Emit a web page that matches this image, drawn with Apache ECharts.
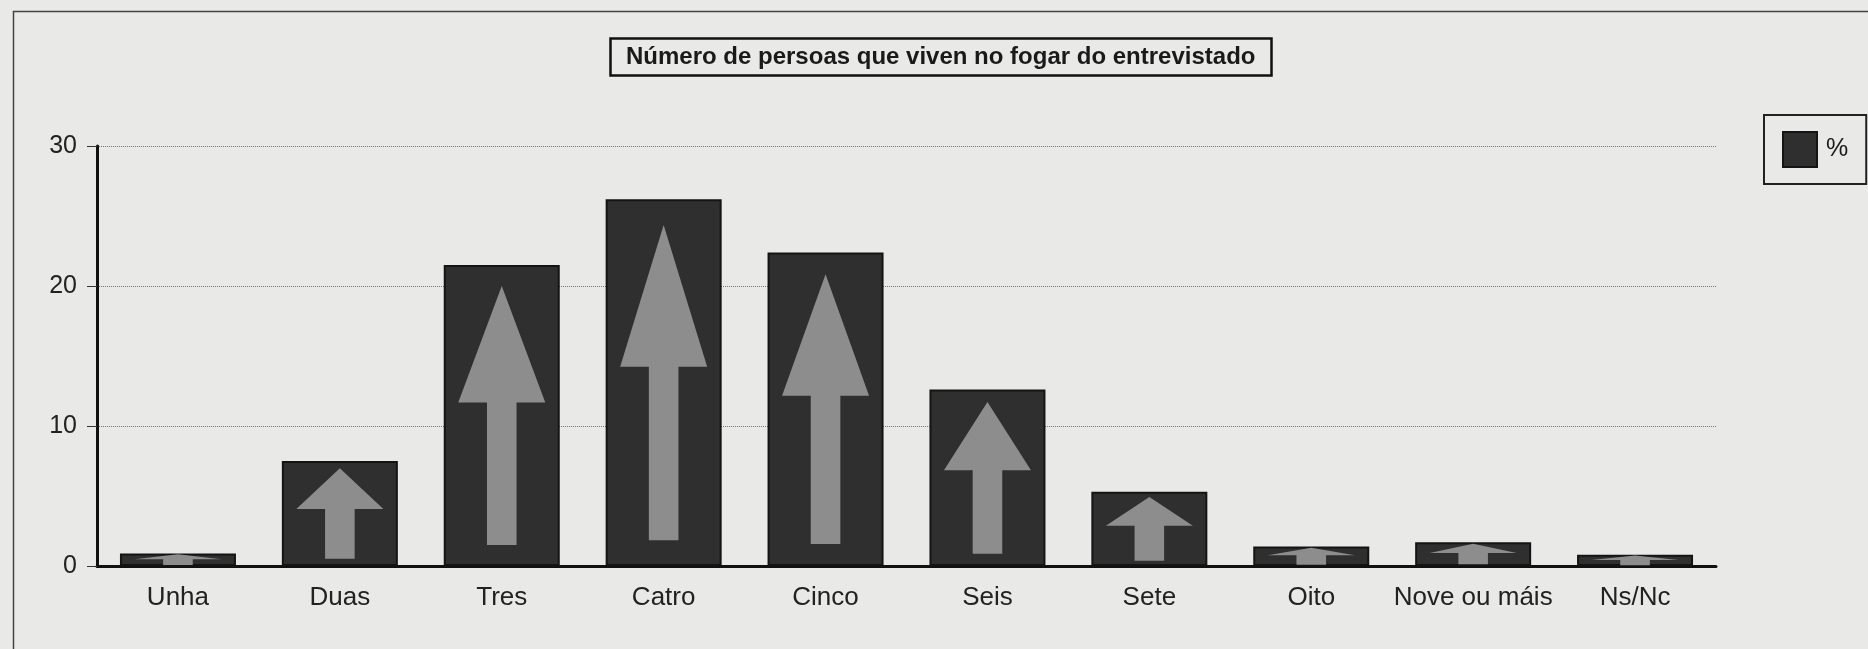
<!DOCTYPE html>
<html lang="gl">
<head>
    <meta charset="UTF-8">
    <title>Número de persoas que viven no fogar do entrevistado</title>
    <script src="https://cdn.jsdelivr.net/npm/echarts@6.0.0/dist/echarts.min.js"></script>
    <style>
        html, body {
            margin: 0;
            padding: 0;
            background: #e9e9e8;
        }

        #main {
            width: 1868px;
            height: 649px;
        }
    </style>
</head>
<body>
    <div id="main"></div>
    <script>
        // Data
        const categories = ['Unha', 'Duas', 'Tres', 'Catro', 'Cinco', 'Seis', 'Sete', 'Oito', 'Nove ou máis', 'Ns/Nc'];
        const percent = [0.9, 7.5, 21.5, 26.2, 22.4, 12.6, 5.3, 1.4, 1.7, 0.8];
        const yTicks = [0, 10, 20, 30];

        const font = "'Liberation Sans', Arial, Helvetica, sans-serif";
        const arrow = 'path://M50,0L100,45L67,45L67,100L33,100L33,45L0,45Z';

        const chart = echarts.init(document.getElementById('main'));

        const option = {
            backgroundColor: '#e9e9e8',
            animation: false,
            textStyle: { fontFamily: font },
            title: {
                text: 'Número de persoas que viven no fogar do entrevistado',
                left: 610,
                top: 38,
                padding: [7, 16, 7, 16],
                borderColor: '#111',
                borderWidth: 2.5,
                textStyle: {
                    fontFamily: font,
                    fontSize: 24,
                    fontWeight: 'bold',
                    color: '#1a1a1a'
                }
            },
            legend: {
                data: ['%'],
                left: 1764,
                top: 115,
                padding: [16, 18, 16, 18],
                borderColor: '#222',
                borderWidth: 2,
                itemWidth: 34,
                itemHeight: 35,
                icon: 'rect',
                textStyle: {
                    fontFamily: font,
                    fontSize: 25,
                    color: '#1a1a1a',
                    padding: [0, 0, 0, 4]
                }
            },
            grid: {
                left: 97,
                right: 152,
                top: 146,
                bottom: 83
            },
            xAxis: {
                type: 'category',
                data: categories,
                axisLine: { lineStyle: { color: '#111', width: 3 } },
                axisTick: { length: 11, lineStyle: { color: '#111', width: 2.5 } },
                axisLabel: {
                    margin: 19,
                    fontSize: 26,
                    color: '#222',
                    interval: 0
                }
            },
            yAxis: {
                type: 'value',
                min: yTicks[0],
                max: yTicks[yTicks.length - 1],
                interval: 10,
                axisLine: { show: true, lineStyle: { color: '#111', width: 3 } },
                axisTick: { show: true, length: 10, lineStyle: { color: '#333', width: 1 } },
                axisLabel: {
                    margin: 20,
                    fontSize: 25,
                    color: '#222'
                },
                splitLine: {
                    lineStyle: { type: 'dotted', color: '#777', width: 1 }
                }
            },
            series: [
                {
                    name: '%',
                    type: 'bar',
                    data: percent,
                    barWidth: 116,
                    itemStyle: {
                        color: '#2f2f2f',
                        borderColor: '#141414',
                        borderWidth: 2
                    }
                },
                {
                    name: 'arrow',
                    type: 'pictorialBar',
                    data: percent,
                    barWidth: 116,
                    symbol: arrow,
                    symbolSize: ['75%', '86%'],
                    symbolPosition: 'center',
                    z: 5,
                    itemStyle: { color: '#8d8d8d' }
                }
            ],
            graphic: [
                {
                    // outer frame of the scanned page (right and bottom edges fall off the image)
                    type: 'rect',
                    left: 11,
                    top: 9,
                    shape: { width: 1900, height: 700 },
                    style: { fill: null, stroke: '#444', lineWidth: 1.5 },
                    silent: true
                }
            ]
        };

        chart.setOption(option);

        window.addEventListener('resize', function () {
            chart.resize();
        });
    </script>
</body>
</html>
